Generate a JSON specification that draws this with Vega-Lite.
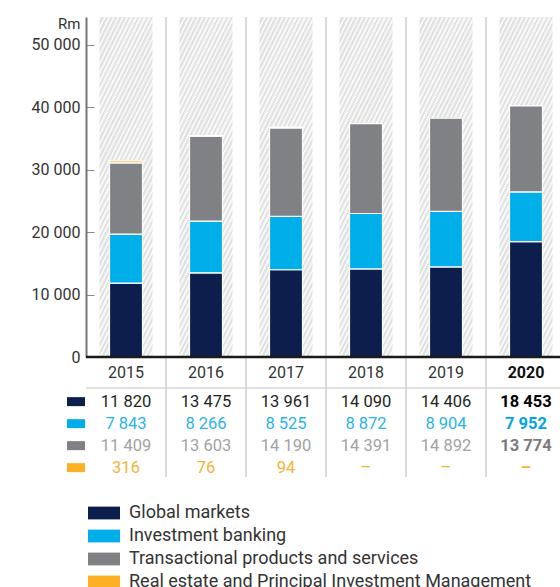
{
"$schema": "https://vega.github.io/schema/vega-lite/v6.json",
"width": 474, "height": 460,
"autosize": {"type": "none"},
"padding": {"left": 86, "top": 17, "right": 0, "bottom": 110},
"background": "white",
"config": {"view": {"stroke": null}, "font": "Roboto", "locale": {"number": {"decimal": ".", "thousands": " ", "grouping": [3], "currency": ["", ""]}}},
"datasets": {"rev": [
{"year": "2015", "key": "r1", "series": "Global markets", "value": 11820},
{"year": "2015", "key": "r2", "series": "Investment banking", "value": 7843},
{"year": "2015", "key": "r3", "series": "Transactional products and services", "value": 11409},
{"year": "2015", "key": "r4", "series": "Real estate and Principal Investment Management", "value": 316},
{"year": "2016", "key": "r1", "series": "Global markets", "value": 13475},
{"year": "2016", "key": "r2", "series": "Investment banking", "value": 8266},
{"year": "2016", "key": "r3", "series": "Transactional products and services", "value": 13603},
{"year": "2016", "key": "r4", "series": "Real estate and Principal Investment Management", "value": 76},
{"year": "2017", "key": "r1", "series": "Global markets", "value": 13961},
{"year": "2017", "key": "r2", "series": "Investment banking", "value": 8525},
{"year": "2017", "key": "r3", "series": "Transactional products and services", "value": 14190},
{"year": "2017", "key": "r4", "series": "Real estate and Principal Investment Management", "value": 94},
{"year": "2018", "key": "r1", "series": "Global markets", "value": 14090},
{"year": "2018", "key": "r2", "series": "Investment banking", "value": 8872},
{"year": "2018", "key": "r3", "series": "Transactional products and services", "value": 14391},
{"year": "2018", "key": "r4", "series": "Real estate and Principal Investment Management", "value": null},
{"year": "2019", "key": "r1", "series": "Global markets", "value": 14406},
{"year": "2019", "key": "r2", "series": "Investment banking", "value": 8904},
{"year": "2019", "key": "r3", "series": "Transactional products and services", "value": 14892},
{"year": "2019", "key": "r4", "series": "Real estate and Principal Investment Management", "value": null},
{"year": "2020", "key": "r1", "series": "Global markets", "value": 18453},
{"year": "2020", "key": "r2", "series": "Investment banking", "value": 7952},
{"year": "2020", "key": "r3", "series": "Transactional products and services", "value": 13774},
{"year": "2020", "key": "r4", "series": "Real estate and Principal Investment Management", "value": null}
]},
"data": {"name": "rev"},
"resolve": {"scale": {"y": "independent"}, "axis": {"y": "independent"}},
"layer": [
{
"layer": [
{
"transform": [{"filter": "datum.key === 'r1' && datum.year !== '2015'"}],
"mark": {"type": "rule", "color": "#dadada", "strokeWidth": 2},
"encoding": {"x": {"field": "year", "type": "ordinal", "bandPosition": 0, "axis": null, "scale": {"type": "band", "domain": ["2015","2016","2017","2018","2019","2020"], "range": [0, 480], "paddingInner": 0, "paddingOuter": 0}}}
},
{
"transform": [{"filter": "datum.key === 'r1'"}],
"mark": {"type": "bar", "width": {"band": 0.6625}, "stroke": null, "fill": {"gradient": "linear", "x1": 0, "y1": 0, "x2": 0.3728, "y2": 1.1956, "stops": [
{"offset":0,"color":"#f7f7f7"},
{"offset":0.01,"color":"#f7f7f7"},{"offset":0.01,"color":"#e2e2e2"},
{"offset":0.02,"color":"#e2e2e2"},{"offset":0.02,"color":"#f7f7f7"},
{"offset":0.03,"color":"#f7f7f7"},{"offset":0.03,"color":"#e2e2e2"},
{"offset":0.04,"color":"#e2e2e2"},{"offset":0.04,"color":"#f7f7f7"},
{"offset":0.05,"color":"#f7f7f7"},{"offset":0.05,"color":"#e2e2e2"},
{"offset":0.06,"color":"#e2e2e2"},{"offset":0.06,"color":"#f7f7f7"},
{"offset":0.07,"color":"#f7f7f7"},{"offset":0.07,"color":"#e2e2e2"},
{"offset":0.08,"color":"#e2e2e2"},{"offset":0.08,"color":"#f7f7f7"},
{"offset":0.09,"color":"#f7f7f7"},{"offset":0.09,"color":"#e2e2e2"},
{"offset":0.10,"color":"#e2e2e2"},{"offset":0.10,"color":"#f7f7f7"},
{"offset":0.11,"color":"#f7f7f7"},{"offset":0.11,"color":"#e2e2e2"},
{"offset":0.12,"color":"#e2e2e2"},{"offset":0.12,"color":"#f7f7f7"},
{"offset":0.13,"color":"#f7f7f7"},{"offset":0.13,"color":"#e2e2e2"},
{"offset":0.14,"color":"#e2e2e2"},{"offset":0.14,"color":"#f7f7f7"},
{"offset":0.15,"color":"#f7f7f7"},{"offset":0.15,"color":"#e2e2e2"},
{"offset":0.16,"color":"#e2e2e2"},{"offset":0.16,"color":"#f7f7f7"},
{"offset":0.17,"color":"#f7f7f7"},{"offset":0.17,"color":"#e2e2e2"},
{"offset":0.18,"color":"#e2e2e2"},{"offset":0.18,"color":"#f7f7f7"},
{"offset":0.19,"color":"#f7f7f7"},{"offset":0.19,"color":"#e2e2e2"},
{"offset":0.20,"color":"#e2e2e2"},{"offset":0.20,"color":"#f7f7f7"},
{"offset":0.21,"color":"#f7f7f7"},{"offset":0.21,"color":"#e2e2e2"},
{"offset":0.22,"color":"#e2e2e2"},{"offset":0.22,"color":"#f7f7f7"},
{"offset":0.23,"color":"#f7f7f7"},{"offset":0.23,"color":"#e2e2e2"},
{"offset":0.24,"color":"#e2e2e2"},{"offset":0.24,"color":"#f7f7f7"},
{"offset":0.25,"color":"#f7f7f7"},{"offset":0.25,"color":"#e2e2e2"},
{"offset":0.26,"color":"#e2e2e2"},{"offset":0.26,"color":"#f7f7f7"},
{"offset":0.27,"color":"#f7f7f7"},{"offset":0.27,"color":"#e2e2e2"},
{"offset":0.28,"color":"#e2e2e2"},{"offset":0.28,"color":"#f7f7f7"},
{"offset":0.29,"color":"#f7f7f7"},{"offset":0.29,"color":"#e2e2e2"},
{"offset":0.30,"color":"#e2e2e2"},{"offset":0.30,"color":"#f7f7f7"},
{"offset":0.31,"color":"#f7f7f7"},{"offset":0.31,"color":"#e2e2e2"},
{"offset":0.32,"color":"#e2e2e2"},{"offset":0.32,"color":"#f7f7f7"},
{"offset":0.33,"color":"#f7f7f7"},{"offset":0.33,"color":"#e2e2e2"},
{"offset":0.34,"color":"#e2e2e2"},{"offset":0.34,"color":"#f7f7f7"},
{"offset":0.35,"color":"#f7f7f7"},{"offset":0.35,"color":"#e2e2e2"},
{"offset":0.36,"color":"#e2e2e2"},{"offset":0.36,"color":"#f7f7f7"},
{"offset":0.37,"color":"#f7f7f7"},{"offset":0.37,"color":"#e2e2e2"},
{"offset":0.38,"color":"#e2e2e2"},{"offset":0.38,"color":"#f7f7f7"},
{"offset":0.39,"color":"#f7f7f7"},{"offset":0.39,"color":"#e2e2e2"},
{"offset":0.40,"color":"#e2e2e2"},{"offset":0.40,"color":"#f7f7f7"},
{"offset":0.41,"color":"#f7f7f7"},{"offset":0.41,"color":"#e2e2e2"},
{"offset":0.42,"color":"#e2e2e2"},{"offset":0.42,"color":"#f7f7f7"},
{"offset":0.43,"color":"#f7f7f7"},{"offset":0.43,"color":"#e2e2e2"},
{"offset":0.44,"color":"#e2e2e2"},{"offset":0.44,"color":"#f7f7f7"},
{"offset":0.45,"color":"#f7f7f7"},{"offset":0.45,"color":"#e2e2e2"},
{"offset":0.46,"color":"#e2e2e2"},{"offset":0.46,"color":"#f7f7f7"},
{"offset":0.47,"color":"#f7f7f7"},{"offset":0.47,"color":"#e2e2e2"},
{"offset":0.48,"color":"#e2e2e2"},{"offset":0.48,"color":"#f7f7f7"},
{"offset":0.49,"color":"#f7f7f7"},{"offset":0.49,"color":"#e2e2e2"},
{"offset":0.50,"color":"#e2e2e2"},{"offset":0.50,"color":"#f7f7f7"},
{"offset":0.51,"color":"#f7f7f7"},{"offset":0.51,"color":"#e2e2e2"},
{"offset":0.52,"color":"#e2e2e2"},{"offset":0.52,"color":"#f7f7f7"},
{"offset":0.53,"color":"#f7f7f7"},{"offset":0.53,"color":"#e2e2e2"},
{"offset":0.54,"color":"#e2e2e2"},{"offset":0.54,"color":"#f7f7f7"},
{"offset":0.55,"color":"#f7f7f7"},{"offset":0.55,"color":"#e2e2e2"},
{"offset":0.56,"color":"#e2e2e2"},{"offset":0.56,"color":"#f7f7f7"},
{"offset":0.57,"color":"#f7f7f7"},{"offset":0.57,"color":"#e2e2e2"},
{"offset":0.58,"color":"#e2e2e2"},{"offset":0.58,"color":"#f7f7f7"},
{"offset":0.59,"color":"#f7f7f7"},{"offset":0.59,"color":"#e2e2e2"},
{"offset":0.60,"color":"#e2e2e2"},{"offset":0.60,"color":"#f7f7f7"},
{"offset":0.61,"color":"#f7f7f7"},{"offset":0.61,"color":"#e2e2e2"},
{"offset":0.62,"color":"#e2e2e2"},{"offset":0.62,"color":"#f7f7f7"},
{"offset":0.63,"color":"#f7f7f7"},{"offset":0.63,"color":"#e2e2e2"},
{"offset":0.64,"color":"#e2e2e2"},{"offset":0.64,"color":"#f7f7f7"},
{"offset":0.65,"color":"#f7f7f7"},{"offset":0.65,"color":"#e2e2e2"},
{"offset":0.66,"color":"#e2e2e2"},{"offset":0.66,"color":"#f7f7f7"},
{"offset":0.67,"color":"#f7f7f7"},{"offset":0.67,"color":"#e2e2e2"},
{"offset":0.68,"color":"#e2e2e2"},{"offset":0.68,"color":"#f7f7f7"},
{"offset":0.69,"color":"#f7f7f7"},{"offset":0.69,"color":"#e2e2e2"},
{"offset":0.70,"color":"#e2e2e2"},{"offset":0.70,"color":"#f7f7f7"},
{"offset":0.71,"color":"#f7f7f7"},{"offset":0.71,"color":"#e2e2e2"},
{"offset":0.72,"color":"#e2e2e2"},{"offset":0.72,"color":"#f7f7f7"},
{"offset":0.73,"color":"#f7f7f7"},{"offset":0.73,"color":"#e2e2e2"},
{"offset":0.74,"color":"#e2e2e2"},{"offset":0.74,"color":"#f7f7f7"},
{"offset":0.75,"color":"#f7f7f7"},{"offset":0.75,"color":"#e2e2e2"},
{"offset":0.76,"color":"#e2e2e2"},{"offset":0.76,"color":"#f7f7f7"},
{"offset":0.77,"color":"#f7f7f7"},{"offset":0.77,"color":"#e2e2e2"},
{"offset":0.78,"color":"#e2e2e2"},{"offset":0.78,"color":"#f7f7f7"},
{"offset":0.79,"color":"#f7f7f7"},{"offset":0.79,"color":"#e2e2e2"},
{"offset":0.80,"color":"#e2e2e2"},{"offset":0.80,"color":"#f7f7f7"},
{"offset":0.81,"color":"#f7f7f7"},{"offset":0.81,"color":"#e2e2e2"},
{"offset":0.82,"color":"#e2e2e2"},{"offset":0.82,"color":"#f7f7f7"},
{"offset":0.83,"color":"#f7f7f7"},{"offset":0.83,"color":"#e2e2e2"},
{"offset":0.84,"color":"#e2e2e2"},{"offset":0.84,"color":"#f7f7f7"},
{"offset":0.85,"color":"#f7f7f7"},{"offset":0.85,"color":"#e2e2e2"},
{"offset":0.86,"color":"#e2e2e2"},{"offset":0.86,"color":"#f7f7f7"},
{"offset":0.87,"color":"#f7f7f7"},{"offset":0.87,"color":"#e2e2e2"},
{"offset":0.88,"color":"#e2e2e2"},{"offset":0.88,"color":"#f7f7f7"},
{"offset":0.89,"color":"#f7f7f7"},{"offset":0.89,"color":"#e2e2e2"},
{"offset":0.90,"color":"#e2e2e2"},{"offset":0.90,"color":"#f7f7f7"},
{"offset":0.91,"color":"#f7f7f7"},{"offset":0.91,"color":"#e2e2e2"},
{"offset":0.92,"color":"#e2e2e2"},{"offset":0.92,"color":"#f7f7f7"},
{"offset":0.93,"color":"#f7f7f7"},{"offset":0.93,"color":"#e2e2e2"},
{"offset":0.94,"color":"#e2e2e2"},{"offset":0.94,"color":"#f7f7f7"},
{"offset":0.95,"color":"#f7f7f7"},{"offset":0.95,"color":"#e2e2e2"},
{"offset":0.96,"color":"#e2e2e2"},{"offset":0.96,"color":"#f7f7f7"},
{"offset":0.97,"color":"#f7f7f7"},{"offset":0.97,"color":"#e2e2e2"},
{"offset":0.98,"color":"#e2e2e2"},{"offset":0.98,"color":"#f7f7f7"},
{"offset":0.99,"color":"#f7f7f7"},{"offset":0.99,"color":"#e2e2e2"},
{"offset":1,"color":"#e2e2e2"}
]}},
"encoding": {
"x": {"field": "year", "type": "ordinal", "axis": null, "scale": {"type": "band", "domain": ["2015","2016","2017","2018","2019","2020"], "range": [0, 480], "paddingInner": 0, "paddingOuter": 0}},
"y": {"datum": 54400, "type": "quantitative", "scale": {"domain": [0, 54400], "range": [340, 0], "nice": false, "zero": true},
 "axis": {"values": [0,10000,20000,30000,40000,50000], "format": ",d", "title": "Rm", "titleAngle": 0, "titleAlign": "right", "titleBaseline": "alphabetic", "titleX": -6, "titleY": 11, "titleFont": "Roboto", "titleFontSize": 15, "titleFontWeight": "normal", "titleColor": "#333333", "labelFont": "Roboto", "labelFontSize": 16, "labelColor": "#333333", "tickSize": -8, "tickColor": "#8a8a8a", "tickWidth": 1, "labelPadding": 14, "domainColor": "#757575", "domainWidth": 2, "grid": false}},
"y2": {"datum": 0}
}
},
{
"mark": {"type": "bar", "width": {"band": 0.4125}, "stroke": "white", "strokeWidth": 1.2},
"encoding": {
"x": {"field": "year", "type": "ordinal", "axis": null, "scale": {"type": "band", "domain": ["2015","2016","2017","2018","2019","2020"], "range": [0, 480], "paddingInner": 0, "paddingOuter": 0}},
"y": {"field": "value", "type": "quantitative", "stack": "zero", "scale": {"domain": [0, 54400], "range": [340, 0], "nice": false, "zero": true},
 "axis": {"values": [0,10000,20000,30000,40000,50000], "format": ",d", "title": "Rm", "titleAngle": 0, "titleAlign": "right", "titleBaseline": "alphabetic", "titleX": -6, "titleY": 11, "titleFont": "Roboto", "titleFontSize": 15, "titleFontWeight": "normal", "titleColor": "#333333", "labelFont": "Roboto", "labelFontSize": 16, "labelColor": "#333333", "tickSize": -8, "tickColor": "#8a8a8a", "tickWidth": 1, "labelPadding": 14, "domainColor": "#757575", "domainWidth": 2, "grid": false}},
"order": {"field": "key", "type": "ordinal"},
"color": {"field": "series", "type": "nominal",
 "scale": {"domain": ["Global markets", "Investment banking", "Transactional products and services", "Real estate and Principal Investment Management"], "range": ["#0b1e4c", "#00afe9", "#808184", "#fbb123"]},
 "legend": {"orient": "none", "legendX": 1, "legendY": 487, "direction": "vertical", "title": null, "symbolType": "M-2,-0.8H2V0.8H-2Z", "symbolSize": 256, "symbolOffset": 8, "symbolStrokeWidth": 0, "symbolOpacity": 1, "labelFont": "Roboto", "labelFontSize": 18, "labelColor": "#333333", "labelOffset": 16, "labelLimit": 1000, "rowPadding": 5, "padding": 0}}
}
},
{
"data": {"values": [{}]},
"mark": {"type": "rule", "color": "#1a1a1a", "strokeWidth": 2.5},
"encoding": {"y": {"datum": 0, "type": "quantitative", "scale": {"domain": [0, 54400], "range": [340, 0], "nice": false, "zero": true},
 "axis": {"values": [0,10000,20000,30000,40000,50000], "format": ",d", "title": "Rm", "titleAngle": 0, "titleAlign": "right", "titleBaseline": "alphabetic", "titleX": -6, "titleY": 11, "titleFont": "Roboto", "titleFontSize": 15, "titleFontWeight": "normal", "titleColor": "#333333", "labelFont": "Roboto", "labelFontSize": 16, "labelColor": "#333333", "tickSize": -8, "tickColor": "#8a8a8a", "tickWidth": 1, "labelPadding": 14, "domainColor": "#757575", "domainWidth": 2, "grid": false}}}
}
]
},
{
"layer": [
{
"data": {"values": [{}]},
"mark": {"type": "rule", "color": "#d6d6d6", "strokeWidth": 1.5},
"encoding": {"y": {"datum": "r1", "type": "nominal", "bandPosition": 0, "axis": null, "scale": {"type": "band", "domain": ["year","r1","r2","r3","r4"], "range": [349, 459], "paddingInner": 0, "paddingOuter": 0}}}
},
{
"transform": [{"filter": "datum.key === 'r1' && datum.year !== '2020'"}],
"mark": {"type": "text", "baseline": "middle", "fontSize": 16, "color": "#333333"},
"encoding": {
"x": {"field": "year", "type": "ordinal", "axis": null},
"y": {"datum": "year", "type": "nominal", "bandPosition": 0.318, "axis": null},
"text": {"field": "year"}
}
},
{
"transform": [{"filter": "datum.key === 'r1' && datum.year === '2020'"}],
"mark": {"type": "text", "baseline": "middle", "fontSize": 16, "fontWeight": "bold", "color": "#111111"},
"encoding": {
"x": {"field": "year", "type": "ordinal", "axis": null},
"y": {"datum": "year", "type": "nominal", "bandPosition": 0.318, "axis": null},
"text": {"field": "year"}
}
},
{
"transform": [{"filter": "datum.year !== '2020'"}],
"mark": {"type": "text", "baseline": "middle", "fontSize": 16.5},
"encoding": {
"x": {"field": "year", "type": "ordinal", "axis": null},
"y": {"field": "key", "type": "nominal", "bandPosition": 0.62, "axis": null},
"text": {"condition": {"test": "datum.value == null", "value": "–"}, "field": "value", "type": "quantitative", "format": ",d"},
"color": {"condition": [{"test": "datum.key === 'r1'", "value": "#231f20"}, {"test": "datum.key === 'r2'", "value": "#2ab4e8"}, {"test": "datum.key === 'r3'", "value": "#a2a2a4"}], "value": "#f8b133"}
}
},
{
"transform": [{"filter": "datum.year === '2020'"}],
"mark": {"type": "text", "baseline": "middle", "fontSize": 16.5, "fontWeight": "bold"},
"encoding": {
"x": {"field": "year", "type": "ordinal", "axis": null},
"y": {"field": "key", "type": "nominal", "bandPosition": 0.62, "axis": null},
"text": {"condition": {"test": "datum.value == null", "value": "–"}, "field": "value", "type": "quantitative", "format": ",d"},
"color": {"condition": [{"test": "datum.key === 'r1'", "value": "#000000"}, {"test": "datum.key === 'r2'", "value": "#00a6e2"}, {"test": "datum.key === 'r3'", "value": "#7b7b7d"}], "value": "#f8b133"}
}
},
{
"transform": [{"filter": "datum.year === '2015'"}],
"mark": {"type": "point", "shape": "M-1,-0.5H1V0.5H-1Z", "size": 324, "filled": true, "opacity": 1, "strokeWidth": 0},
"encoding": {
"x": {"field": "year", "type": "ordinal", "bandPosition": -0.125, "axis": null},
"y": {"field": "key", "type": "nominal", "bandPosition": 0.62, "axis": null},
"color": {"condition": [{"test": "datum.key === 'r1'", "value": "#0b1e4c"}, {"test": "datum.key === 'r2'", "value": "#00afe9"}, {"test": "datum.key === 'r3'", "value": "#808184"}], "value": "#fbb123"}
}
}
]
}
]
}
